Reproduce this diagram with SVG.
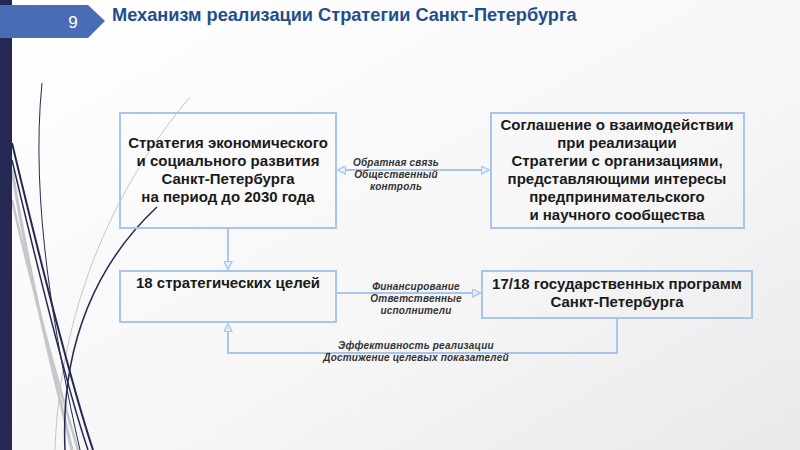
<svg xmlns="http://www.w3.org/2000/svg" width="800" height="450" viewBox="0 0 800 450">
<defs>
<linearGradient id="bg" x1="0" y1="0" x2="1" y2="1">
<stop offset="0" stop-color="#ffffff"/>
<stop offset="0.6" stop-color="#f6f6f7"/>
<stop offset="1" stop-color="#e9e9eb"/>
</linearGradient>
<marker id="tri" viewBox="0 0 10 10" refX="9" refY="5" markerWidth="9" markerHeight="9" orient="auto-start-reverse" markerUnits="userSpaceOnUse">
<path d="M0.5,0.5 L9.5,5 L0.5,9.5 Z" fill="#e4edfb" stroke="#a9c5ee" stroke-width="1.5"/>
</marker>
<style>
.box{fill:none;stroke:#a9c5ee;stroke-width:2}
.bt{font-family:"Liberation Sans",Arial,sans-serif;font-weight:bold;font-size:15px;fill:#1a1a1a;text-anchor:middle}
.lbl{font-family:"Liberation Sans",Arial,sans-serif;font-style:italic;font-weight:bold;font-size:10px;letter-spacing:0.2px;fill:#333;text-anchor:middle}
.con{fill:none;stroke:#a9c5ee;stroke-width:2}
.dk{fill:none;stroke:#252850}
.gr{fill:none;stroke:#c4c6cc}
</style>
</defs>
<rect width="800" height="450" fill="url(#bg)"/>
<g id="decor">
<path class="gr" stroke-width="3" d="M12,170 C30,280 55,380 72,450"/>
<path class="gr" stroke-width="2.5" d="M12,200 C35,300 60,390 78,450"/>
<path class="gr" stroke-width="1" d="M190,97 C120,180 60,300 55,450"/>
<path class="dk" stroke-width="2" d="M12,143 C40,260 70,380 93,450"/>
<path class="dk" stroke-width="1.5" d="M12,160 C38,270 66,385 88,450"/>
<path class="dk" stroke-width="1" d="M42,83 C30,200 55,340 80,450"/>
<path class="dk" stroke-width="1.5" d="M157,207 C100,260 60,340 65,450"/>
<rect x="0" y="0" width="12" height="450" fill="#252850"/>
</g>
<g id="title">
<path d="M0,5 H88 L105,21 L88,38 H0 Z" fill="#4a6cb5"/>
<text x="73" y="28" font-family="Liberation Sans,Arial,sans-serif" font-size="17" fill="#ffffff" text-anchor="middle">9</text>
<text x="112" y="21" font-family="Liberation Sans,Arial,sans-serif" font-weight="bold" font-size="18.2" fill="#1f4e8c">Механизм реализации Стратегии Санкт-Петербурга</text>
</g>
<g id="connectors">
<line class="con" x1="338" y1="170" x2="489" y2="170" marker-start="url(#tri)" marker-end="url(#tri)"/>
<line class="con" x1="228" y1="229" x2="228" y2="269" marker-end="url(#tri)"/>
<line class="con" x1="337" y1="293" x2="480" y2="293" marker-end="url(#tri)"/>
<path class="con" d="M617,319 V353 H228 V324" marker-end="url(#tri)"/>
<text class="lbl" x="396" y="166">Обратная связь</text>
<text class="lbl" x="396" y="178">Общественный</text>
<text class="lbl" x="396" y="190">контроль</text>
<text class="lbl" x="416" y="290">Финансирование</text>
<text class="lbl" x="416" y="302">Ответственные</text>
<text class="lbl" x="416" y="314">исполнители</text>
<text class="lbl" x="416" y="349">Эффективность реализации</text>
<text class="lbl" x="416" y="361">Достижение целевых показателей</text>
</g>
<g id="strategy">
<rect class="box" x="120" y="113" width="216" height="115"/>
<text class="bt" x="228" y="148">Стратегия экономического</text>
<text class="bt" x="228" y="166">и социального развития</text>
<text class="bt" x="228" y="184">Санкт-Петербурга</text>
<text class="bt" x="228" y="202">на период до 2030 года</text>
</g>
<g id="agreement">
<rect class="box" x="491" y="113" width="253" height="115"/>
<text class="bt" x="617" y="130">Соглашение о взаимодействии</text>
<text class="bt" x="617" y="148">при реализации</text>
<text class="bt" x="617" y="166">Стратегии с организациями,</text>
<text class="bt" x="617" y="184">представляющими интересы</text>
<text class="bt" x="617" y="202">предпринимательского</text>
<text class="bt" x="617" y="220">и научного сообщества</text>
</g>
<g id="goals">
<rect class="box" x="120" y="271" width="216" height="51"/>
<text class="bt" x="228" y="288">18 стратегических целей</text>
</g>
<g id="programs">
<rect class="box" x="482" y="271" width="270" height="47"/>
<text class="bt" x="617" y="289">17/18 государственных программ</text>
<text class="bt" x="617" y="307">Санкт-Петербурга</text>
</g>
</svg>
